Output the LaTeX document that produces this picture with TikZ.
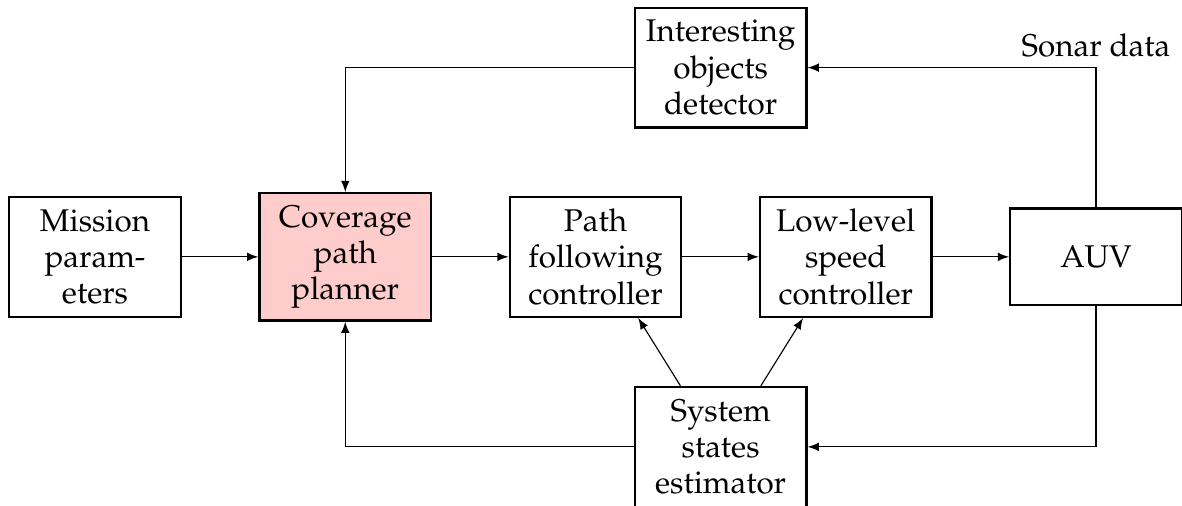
\documentclass[tikz,border=0pt]{standalone}
\usepackage[T1]{fontenc}
\usepackage{mathpazo}
\usetikzlibrary{arrows, positioning, calc}

\begin{document}
\begin{tikzpicture}[
        node distance=0.95cm,
        block/.style={rectangle, draw=black, thick, minimum width=2.13cm, minimum height=1.49cm, align=center, font=\fontsize{11.1}{12.8}\selectfont},
        planner/.style={block, fill=red!20, minimum height=1.58cm},
        plant/.style={block, minimum height=1.2cm},
        lbl/.style={font=\fontsize{11.1}{12.8}\selectfont},
        arrow/.style={->,>=latex},
    ]
        \useasboundingbox (-1.18,-3.09) rectangle (13.50,3.19);

        % Main row
        \node (mission) [block] {Mission\\param-\\eters};
        \node (coverage) [planner, right=of mission] {Coverage\\path\\planner};
        \node (pathctrl) [block, right=of coverage] {Path\\following\\controller};
        \node (speedctrl) [block, right=of pathctrl] {Low-level\\speed\\controller};
        \node (auv) [plant, right=of speedctrl] {AUV};

        % Detector above, estimator below
        \node (detector) [block] at ($(pathctrl)!0.5!(speedctrl)+(0,2.35)$) {Interesting\\objects\\detector};
        \node (estimator) [block] at ($(pathctrl)!0.5!(speedctrl)+(0,-2.36)$) {System\\states\\estimator};

        % Forward path
        \draw [arrow] (mission) -- (coverage);
        \draw [arrow] (coverage) -- (pathctrl);
        \draw [arrow] (pathctrl) -- (speedctrl);
        \draw [arrow] (speedctrl) -- (auv);

        % Sonar feedback through the detector
        \coordinate (sonar) at (auv.north |- detector.east);
        \draw [arrow] (auv.north) -- (sonar) node[lbl, above] {Sonar data} -- (detector.east);
        \draw [arrow] (detector.west) -| (coverage.north);

        % State feedback through the estimator
        \draw [arrow] (auv.south) |- (estimator.east);
        \draw [arrow] (estimator.west) -| (coverage.south);
        \draw [arrow] ($(estimator.north)+(-0.5,0)$) -- ($(pathctrl.south)+(0.53,0)$);
        \draw [arrow] ($(estimator.north)+(0.5,0)$) -- ($(speedctrl.south)+(-0.53,0)$);
    \end{tikzpicture}
\end{document}
